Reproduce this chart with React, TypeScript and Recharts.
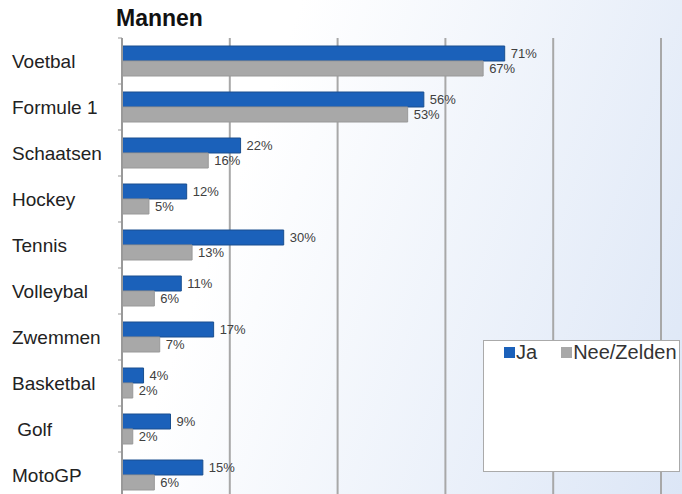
import React from 'react';
import { BarChart, Bar, XAxis, YAxis, CartesianGrid, LabelList } from 'recharts';

const categories = ['Voetbal', 'Formule 1', 'Schaatsen', 'Hockey', 'Tennis', 'Volleybal', 'Zwemmen', 'Basketbal', ' Golf', 'MotoGP'];
const ja = [71, 56, 22, 12, 30, 11, 17, 4, 9, 15];
const nee = [67, 53, 16, 5, 13, 6, 7, 2, 2, 6];
const xTicks = [0, 20, 40, 60, 80, 100];
const seriesNames = ['Ja', 'Nee/Zelden'];
const seriesColors = ['#1b61ba', '#a8a8a8'];

const data = categories.map((c, i) => ({ name: c, ja: ja[i], nee: nee[i] }));

const FONT = '"Liberation Sans", Arial, sans-serif';

const CatTick = (props: any) => {
  const { x, y, payload, index } = props;
  const half = 23;
  return (
    <g>
      <text x={12} y={y} dy={7} textAnchor="start" fontSize={19} fill="#222" fontFamily={FONT} style={{ whiteSpace: 'pre' }}>
        {payload.value}
      </text>
      <line x1={x + 4} x2={x + 8} y1={y - half} y2={y - half} stroke="#999" strokeWidth={1} />
      {index === categories.length - 1 && (
        <line x1={x + 4} x2={x + 8} y1={y + half} y2={y + half} stroke="#999" strokeWidth={1} />
      )}
    </g>
  );
};

export default function App() {
  return (
    <div
      style={{
        position: 'absolute',
        left: 0,
        top: 0,
        width: 682,
        height: 494,
        overflow: 'hidden',
        background: 'linear-gradient(110deg, #ffffff 35%, #dce6f6 100%)',
      }}
    >
      <div style={{ position: 'absolute', left: 116, top: 5, fontFamily: FONT, fontWeight: 'bold', fontSize: 23, color: '#111' }}>
        Mannen
      </div>
      <BarChart
        width={682}
        height={520}
        data={data}
        layout="vertical"
        margin={{ top: 38, right: 21, bottom: 22, left: 0 }}
        barGap={0}
        barCategoryGap={8}
      >
        <CartesianGrid horizontal={false} vertical stroke="#a8a8a8" strokeWidth={2} />
        <XAxis type="number" domain={[0, 100]} ticks={xTicks} hide />
        <YAxis
          type="category"
          dataKey="name"
          width={122}
          axisLine={{ stroke: '#999', strokeWidth: 2 }}
          tickLine={false}
          tick={<CatTick />}
          interval={0}
        />
        <Bar dataKey="ja" name={seriesNames[0]} fill={seriesColors[0]} stroke="#1a4f8f" strokeWidth={1} barSize={15} isAnimationActive={false}>
          <LabelList dataKey="ja" position="right" offset={6} fontSize={13} fill="#404040" stroke="none" fontFamily={FONT} formatter={(v: any) => `${v}%`} />
        </Bar>
        <Bar dataKey="nee" name={seriesNames[1]} fill={seriesColors[1]} stroke="#999" strokeWidth={1} barSize={15} isAnimationActive={false}>
          <LabelList dataKey="nee" position="right" offset={6} fontSize={13} fill="#404040" stroke="none" fontFamily={FONT} formatter={(v: any) => `${v}%`} />
        </Bar>
      </BarChart>
      <div
        style={{
          position: 'absolute',
          left: 483,
          top: 340,
          width: 197,
          height: 132,
          background: '#fff',
          border: '1px solid #aaa',
          boxSizing: 'border-box',
          fontFamily: FONT,
          overflow: 'hidden',
        }}
      >
        <div style={{ display: 'flex', alignItems: 'center', paddingLeft: 20, paddingTop: 0, whiteSpace: 'nowrap' }}>
          {seriesNames.map((n, i) => (
            <div key={n} style={{ display: 'flex', alignItems: 'center', marginRight: i === 0 ? 24 : 0 }}>
              <span style={{ display: 'inline-block', width: 11, height: 11, background: seriesColors[i], marginRight: 1 }} />
              <span style={{ fontSize: 20, color: '#333' }}>{n}</span>
            </div>
          ))}
        </div>
      </div>
    </div>
  );
}
